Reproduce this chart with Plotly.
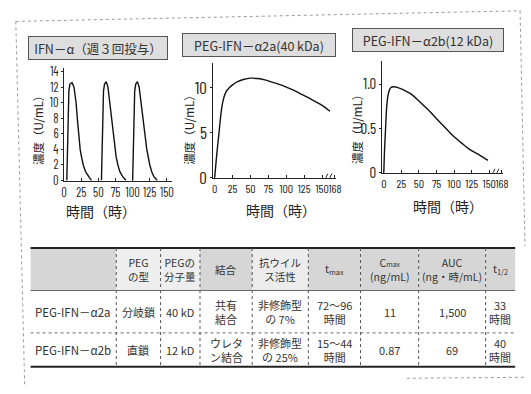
import plotly.graph_objects as go

W, H = 531, 394

# ---------------- data ----------------
# IFN-alpha (three doses a week): concentration (U/mL) vs time (h)
dose1_hours = [4, 5, 6, 7, 8.5, 11.5, 14.5, 17.5, 19.5, 21, 23.5, 25.5, 28, 31.5, 35.5, 40]
dose1_conc = [0, 4, 9, 11.5, 12.4, 12.6, 12, 10, 7.8, 6, 4, 3, 2, 1.1, 0.5, 0]
dose2_hours = [54.5, 55.5, 56.5, 57.5, 59, 61.5, 64, 66.5, 69, 71.5, 74, 76, 78.5, 81.5, 85.5, 90.5]
dose2_conc = [0, 4, 9, 11.5, 12.4, 12.7, 12, 10, 7.8, 6, 4, 3, 2, 1.1, 0.5, 0]
dose3_hours = [100, 101, 102, 103, 104.5, 107, 109.5, 112, 115, 118, 120.5, 123, 125, 128, 131, 136]
dose3_conc = [0, 4, 9, 11.5, 12.4, 12.7, 12, 10, 7.8, 5.9, 4.1, 2.8, 2, 1.1, 0.5, 0]

# PEG-IFN-alpha2a (40 kDa)
a2a_hours = [0, 3, 6, 10, 13, 16, 20, 25, 32, 40, 50, 60, 70, 80, 90, 100, 110, 120, 130, 140, 150, 161]
a2a_conc = [0, 2.7, 5.0, 7.9, 9.0, 9.6, 10.0, 10.35, 10.7, 10.95, 11.1, 11.05, 10.9, 10.65, 10.4, 10.1,
            9.75, 9.35, 8.95, 8.5, 8.05, 7.4]

# PEG-IFN-alpha2b (12 kDa)
a2b_hours = [0, 1, 2.5, 4.5, 7, 10, 14, 20, 28, 40, 51, 63, 75, 87, 98, 110, 121, 134, 148]
a2b_conc = [0, 0.25, 0.5, 0.78, 0.91, 0.96, 0.97, 0.96, 0.935, 0.88, 0.8, 0.71, 0.61, 0.51, 0.42,
            0.34, 0.27, 0.21, 0.14]

# tick labels
ifn_a_xticks = [0, 25, 50, 75, 100, 125, 150]
ifn_a_yticks = [0, 2, 4, 6, 8, 10, 12, 14]
peg_xticks = [0, 25, 50, 75, 100, 125, 150, 168]
peg_axis_break = 158
a2a_yticks = [0, 5, 10]
a2b_yticks = [0, 0.5, 1.0]
a2b_yticktext = ["0", "0.5", "1.0"]

panel_titles = ["IFN－α（週３回投与）", "PEG-IFN－α2a(40 kDa)", "PEG-IFN－α2b(12 kDa)"]
x_title = "時間（時）"
y_title = "濃度（U/mL）"

# table
table_header = ["", "PEG<br>の型", "PEGの<br>分子量", "結合", "抗ウイル<br>ス活性",
                "t<sub>max</sub>",
                "C<span style='font-size:7px'>max</span><br>(ng/mL)",
                "AUC<br>(ng・時/mL)", "t<sub>1/2</sub>"]
row_a2a = ["PEG-IFN－α2a", "分岐鎖", "40 kD", "共有<br>結合", "非修飾型<br>の 7%",
           "72～96<br>時間", "11", "1,500", "33<br>時間"]
row_a2b = ["PEG-IFN－α2b", "直鎖", "12 kD", "ウレタ<br>ン結合", "非修飾型<br>の 25%",
           "15～44<br>時間", "0.87", "69", "40<br>時間"]
table_rows = [row_a2a, row_a2b]

# ---------------- styling / layout ----------------
JP = "Noto Sans CJK JP, sans-serif"
NUM = "Barlow Condensed, Archivo Narrow, Asap Condensed, Liberation Sans Narrow, Liberation Sans, sans-serif"


def fx(px):
    return px / W


def fy(py):
    return (H - py) / H


fig = go.Figure()
line_style = dict(color="#111", width=1.4)

hours_ifn = dose1_hours + [None] + dose2_hours + [None] + dose3_hours
conc_ifn = dose1_conc + [None] + dose2_conc + [None] + dose3_conc
fig.add_trace(go.Scatter(x=hours_ifn, y=conc_ifn, mode="lines", line=line_style,
                         xaxis="x", yaxis="y", showlegend=False, hoverinfo="skip"))
fig.add_trace(go.Scatter(x=a2a_hours, y=a2a_conc, mode="lines", line=line_style,
                         line_shape="spline", xaxis="x2", yaxis="y2", showlegend=False, hoverinfo="skip"))
fig.add_trace(go.Scatter(x=a2b_hours, y=a2b_conc, mode="lines", line=line_style,
                         line_shape="spline", xaxis="x3", yaxis="y3", showlegend=False, hoverinfo="skip"))

axis_common = dict(showline=True, linecolor="#222", linewidth=1, showgrid=False, zeroline=False,
                   tickcolor="#222", tickangle=0, fixedrange=True)

fig.update_layout(
    width=W, height=H,
    margin=dict(l=0, r=0, t=0, b=0),
    paper_bgcolor="white", plot_bgcolor="white",
    showlegend=False,
    xaxis=dict(domain=[fx(62), fx(172)], range=[0, 158], tickvals=ifn_a_xticks,
               ticks="inside", ticklen=3, anchor="y",
               tickfont=dict(family=NUM, size=12.5, color="#222"), **axis_common),
    yaxis=dict(domain=[fy(182), fy(65)], range=[0, 14.5], tickvals=ifn_a_yticks,
               ticks="outside", ticklen=2, anchor="x",
               tickfont=dict(family=NUM, size=12.5, color="#222"), **axis_common),
    xaxis2=dict(domain=[fx(213.5), fx(338.5)], range=[-2, 170], tickvals=peg_xticks,
                ticks="inside", ticklen=3, anchor="y2",
                tickfont=dict(family=NUM, size=12, color="#222"), **axis_common),
    yaxis2=dict(domain=[fy(179), fy(60)], range=[0, 12.8], tickvals=a2a_yticks,
                ticks="outside", ticklen=2, anchor="x2",
                tickfont=dict(family=NUM, size=17, color="#222"), **axis_common),
    xaxis3=dict(domain=[fx(385), fx(508)], range=[-2.3, 170], tickvals=peg_xticks,
                ticks="inside", ticklen=3, anchor="y3",
                tickfont=dict(family=NUM, size=12, color="#222"), **axis_common),
    yaxis3=dict(domain=[fy(174), fy(58)], range=[0, 1.26], tickvals=a2b_yticks,
                ticktext=a2b_yticktext, ticks="outside", ticklen=2, anchor="x3",
                tickfont=dict(family=NUM, size=15, color="#222"), **axis_common),
)

annotations = []
shapes = []

# panel title boxes
box_specs = [(96, 45, 134), (260, 41, 148), (431, 36, 146)]
for text, (cx, cy, bw) in zip(panel_titles, box_specs):
    annotations.append(dict(text=text, x=fx(cx), y=fy(cy), xref="paper", yref="paper",
                            xanchor="center", yanchor="middle",
                            showarrow=False, width=bw, height=18, align="center",
                            bgcolor="#dedede", bordercolor="#555", borderwidth=1, borderpad=2,
                            font=dict(family=JP, size=12.5, color="#333")))
# axis titles
for cx, cy in [(100, 214), (282, 213), (452, 208)]:
    annotations.append(dict(text=x_title, x=fx(cx), y=fy(cy), xref="paper", yref="paper",
                            xanchor="center", yanchor="middle",
                            showarrow=False, font=dict(family=JP, size=14, color="#222")))
for cx, cy in [(36, 127), (189, 127), (359, 126)]:
    annotations.append(dict(text=y_title, x=fx(cx), y=fy(cy), xref="paper", yref="paper",
                            xanchor="center", yanchor="middle",
                            showarrow=False, textangle=-90,
                            font=dict(family=JP, size=11.5, color="#222")))
# axis break marks (two short slashes, sized in pixels at the break position)
for xr, yr in [("x2", "y2"), ("x3", "y3")]:
    for dx in (-2, 2):
        shapes.append(dict(type="line", xref=xr, yref=yr, xsizemode="pixel", ysizemode="pixel",
                           xanchor=peg_axis_break, yanchor=0,
                           x0=dx - 2, x1=dx + 2, y0=-4, y1=4,
                           line=dict(color="#222", width=1)))

# ---- table (built from the row lists) ----
col_widths = [87, 45, 40, 53, 57, 53, 59, 68, 30]
row_edges = [252, 296, 340, 375]
table_left = 28
col_edges = [table_left]
for w in col_widths:
    col_edges.append(col_edges[-1] + w)
header_fills = ["#d6d6d6", "#eeeeee", "#eeeeee", "#d6d6d6", "#ececec",
                "#d6d6d6", "#d6d6d6", "#d6d6d6", "#d6d6d6"]

for i, txt in enumerate(table_header):
    x0, x1 = col_edges[i], col_edges[i + 1]
    shapes.append(dict(type="rect", xref="paper", yref="paper", layer="below",
                       x0=fx(x0), x1=fx(x1), y0=fy(row_edges[0]), y1=fy(row_edges[1]),
                       fillcolor=header_fills[i], line=dict(width=0)))
    if txt:
        annotations.append(dict(text=txt, x=fx((x0 + x1) / 2), y=fy((row_edges[0] + row_edges[1]) / 2),
                                xref="paper", yref="paper", xanchor="center", yanchor="middle",
                                showarrow=False, align="center",
                                font=dict(family=JP, size=10.5, color="#333")))
for r, row in enumerate(table_rows):
    yc = (row_edges[r + 1] + row_edges[r + 2]) / 2
    for i, txt in enumerate(row):
        x0, x1 = col_edges[i], col_edges[i + 1]
        annotations.append(dict(text=txt, x=fx((x0 + x1) / 2), y=fy(yc),
                                xref="paper", yref="paper", xanchor="center", yanchor="middle",
                                showarrow=False, align="center",
                                font=dict(family=JP, size=11.5 if i == 0 else 11, color="#333")))

# horizontal rules
for k, ye in enumerate(row_edges):
    outer = k in (0, len(row_edges) - 1)
    shapes.append(dict(type="line", xref="paper", yref="paper",
                       x0=fx(col_edges[0]), x1=fx(col_edges[-1]), y0=fy(ye), y1=fy(ye),
                       line=dict(color="#222" if outer else "#666", width=2 if outer else 1,
                                 dash="dot" if k == 2 else "solid")))
# vertical rules (inner only)
for xe in col_edges[1:-1]:
    shapes.append(dict(type="line", xref="paper", yref="paper",
                       x0=fx(xe), x1=fx(xe), y0=fy(row_edges[0]), y1=fy(row_edges[-1]),
                       line=dict(color="#555", width=1, dash="dot")))

# dotted outer frame (scanned page border)
frame = dict(color="#9a9a9a", width=1, dash="dot")
shapes += [
    dict(type="line", xref="paper", yref="paper", x0=fx(13), y0=fy(17), x1=fx(525), y1=fy(6), line=frame),
    dict(type="line", xref="paper", yref="paper", x0=fx(13), y0=fy(17), x1=fx(22), y1=fy(394), line=frame),
    dict(type="line", xref="paper", yref="paper", x0=fx(525), y0=fy(6), x1=fx(530), y1=fy(250), line=frame),
    dict(type="line", xref="paper", yref="paper", x0=fx(410), y0=fy(387), x1=fx(531), y1=fy(386), line=frame),
]

fig.update_layout(annotations=annotations, shapes=shapes)

# remove the browser's default page margin so the figure sits at the window origin
fig.write_html("out.html", config={"displayModeBar": False},
               post_script="document.body.style.margin='0px';")
